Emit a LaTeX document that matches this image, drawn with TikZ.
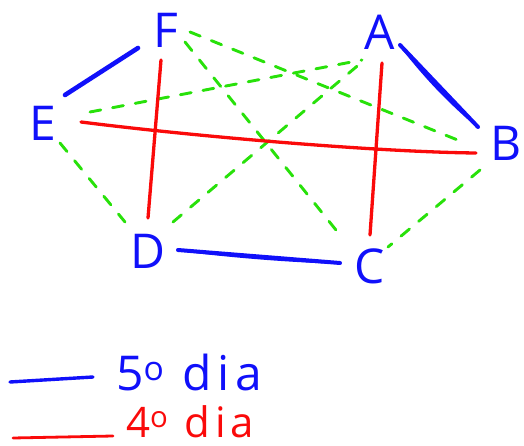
\documentclass[tikz,border=0pt]{standalone}
\usepackage{fontspec}
\setmainfont{Open Sans}
\newfontfamily\legfont[LetterSpace=12]{Open Sans}
\definecolor{penblue}{RGB}{16,16,250}
\definecolor{penred}{RGB}{250,10,10}
\definecolor{pengreen}{RGB}{40,225,10}
\tikzset{
  lbl/.style={inner sep=0pt, text=penblue, font=\fontsize{48}{48}\selectfont},
  bluepen/.style={draw=penblue, line width=4pt, line cap=round},
  bluethin/.style={draw=penblue, line width=2.4pt, line cap=round},
  redpen/.style={draw=penred, line width=3.3pt, line cap=round},
  greenpen/.style={draw=pengreen, line width=2.9pt, line cap=round, dash pattern=on 11pt off 12pt},
  legtext/.style={inner sep=0pt, anchor=base west, font=\legfont\fontsize{48}{48}\selectfont}
}
\begin{document}
\begin{tikzpicture}[x=1pt,y=-1pt]
\useasboundingbox (0,0) rectangle (524,446);
% nodes
\node[lbl] (F) at (166,30) {F};
\node[lbl] (A) at (380,32) {A};
\node[lbl] (E) at (43,123) {E};
\node[lbl] (B) at (506,143) {B};
\node[lbl] (D) at (148,251) {D};
\node[lbl] (C) at (370,266) {C};
% green dashed
\draw[greenpen] ([shift={(47,-11)}]E.center) -- ([shift={(-18,28)}]A.center);
\draw[greenpen] ([shift={(24,2)}]F.center) -- ([shift={(-41,0)}]B.center);
\draw[greenpen] ([shift={(19,12)}]F.center) -- ([shift={(-30,-31)}]C.center);
\draw[greenpen] ([shift={(25,-29)}]D.center) -- ([shift={(-18,30)}]A.center);
\draw[greenpen] ([shift={(17,20)}]E.center) -- ([shift={(-23,-29)}]D.center);
\draw[greenpen] ([shift={(-26,27)}]B.center) -- ([shift={(18,-19)}]C.center);
% red
\draw[redpen] ([shift={(-5,30)}]F.center) -- ([shift={(0,-33)}]D.center);
\draw[redpen] ([shift={(2,31)}]A.center) -- ([shift={(0,-31)}]C.center);
\draw[redpen] ([shift={(38,-1)}]E.center) .. controls ([shift={(157,14)}]E.center) and ([shift={(-127,9)}]B.center) .. ([shift={(-30,10)}]B.center);
% blue
\draw[bluepen, line width=4.6pt] ([shift={(22,-28)}]E.center) -- ([shift={(-28,18)}]F.center);
\draw[bluepen] ([shift={(20,13)}]A.center) -- ([shift={(-28,-16)}]B.center);
\draw[bluethin] ([shift={(20,13)}]A.center) to[bend right=5] ([shift={(-28,-16)}]B.center);
\draw[bluepen] ([shift={(30,-1)}]D.center) -- ([shift={(-30,-3)}]C.center);
\draw[bluethin] ([shift={(30,-1)}]D.center) to[bend right=2] ([shift={(-30,-3)}]C.center);
% legend
\coordinate (l1a) at (10,382);
\coordinate (l1b) at (93,377);
\coordinate (l2a) at (13,438);
\coordinate (l2b) at (113,436);
\draw[bluepen, line width=3.4pt] (l1a) -- (l1b);
\draw[redpen, line width=2.8pt] (l2a) -- (l2b);
\node[legtext, text=penblue] (leg5) at (116,390) {5\textsuperscript{o} dia};
\node[legtext, text=penred, font=\legfont\fontsize{42}{42}\selectfont] (leg4) at (126,437) {4\textsuperscript{o} dia};
\end{tikzpicture}
\end{document}
